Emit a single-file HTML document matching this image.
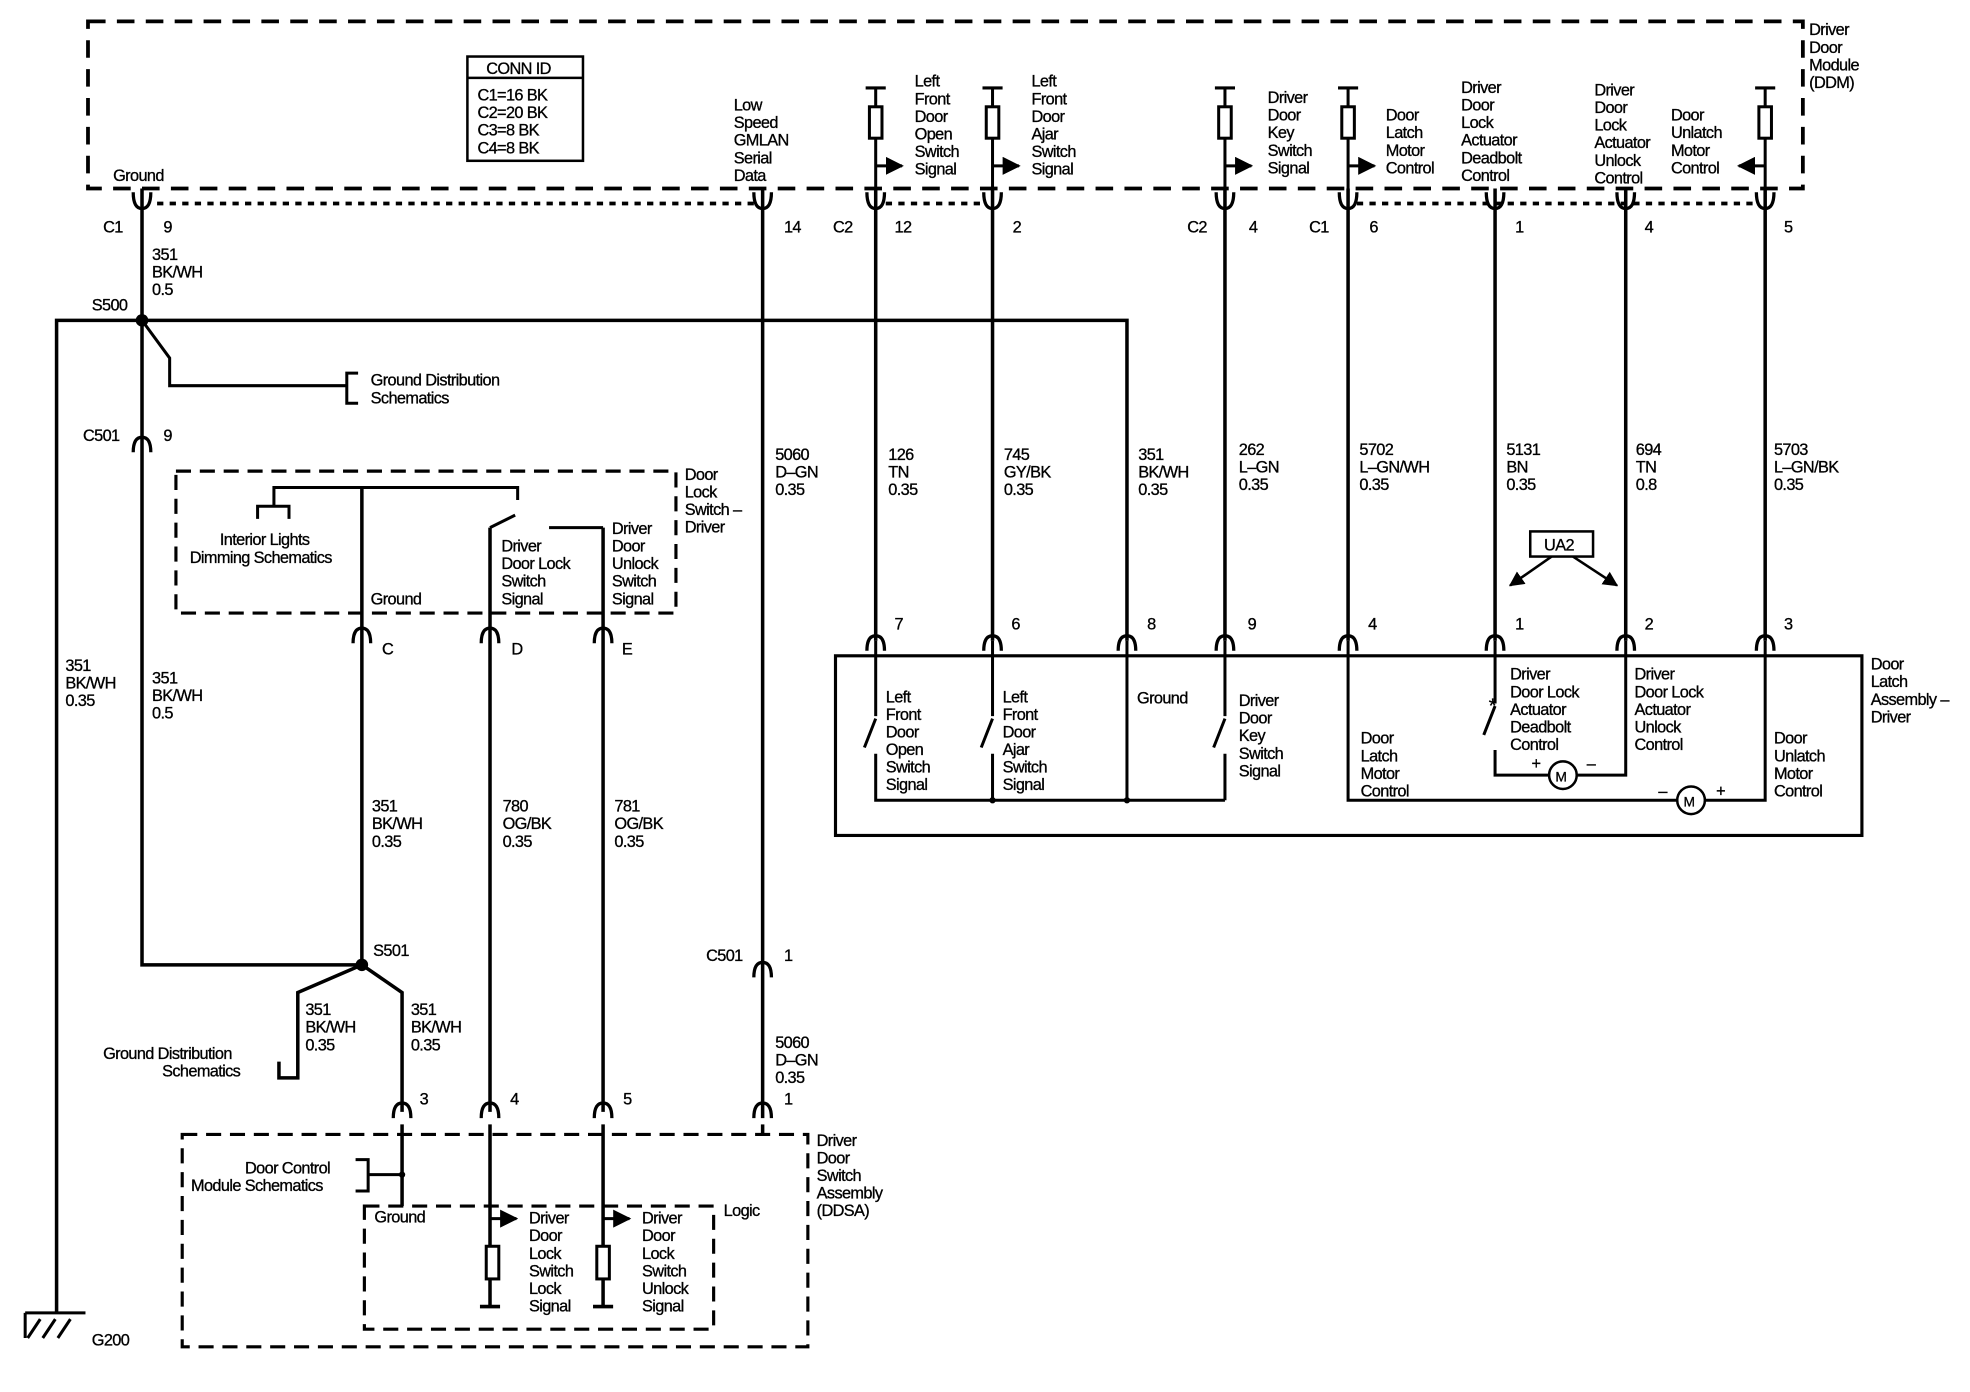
<!DOCTYPE html>
<html><head><meta charset="utf-8"><style>
html,body{margin:0;padding:0;background:#fff;}
svg{display:block;}
text{font-family:"Liberation Sans",Arial,sans-serif;font-size:13px;fill:#000;letter-spacing:-0.5px;stroke:#000;stroke-width:0.25px;}
</style></head><body>
<svg width="1970" height="1392" viewBox="0 0 1568 1108" xmlns="http://www.w3.org/2000/svg">
<defs>
<marker id="ar" viewBox="0 0 10 10" refX="9" refY="5" markerWidth="6" markerHeight="6" orient="auto"><path d="M0,0 L10,5 L0,10 z" fill="#000"/></marker>
</defs>
<g fill="none" stroke="#000" stroke-width="2.8">
<rect x="70" y="17" width="1365" height="133" stroke-width="3" stroke-dasharray="14,9"/>
<line x1="125" y1="162" x2="600" y2="162" stroke-width="3" stroke-dasharray="5,5"/>
<line x1="705" y1="162" x2="785" y2="162" stroke-width="3" stroke-dasharray="5,5"/>
<line x1="1080" y1="162" x2="1400" y2="162" stroke-width="3" stroke-dasharray="5,5"/>
<rect x="372" y="45" width="92" height="83" stroke-width="2"/>
<line x1="372" y1="62" x2="464" y2="62" stroke-width="2"/>

<path d="M113 150 V768 H288"/>
<path d="M45 1045 V255 H897 V510"/>
<path d="M607 150 V890"/>
<path d="M697 150 V510"/><path d="M790 150 V510"/><path d="M975 150 V510"/>
<path d="M1073 150 V510"/><path d="M1190 150 V510"/><path d="M1294 150 V510"/><path d="M1405 150 V510"/>
<path d="M113 255 L135 285 V307 H275" stroke-width="2.4"/>
<path d="M285 297 H276 V321 H285" stroke-width="2.4"/>

<g stroke-width="2.4">
<path d="M689 70 H705 M697 70 V150"/><rect x="692" y="85" width="10" height="25" fill="#fff"/>
<path d="M697 132 H718" marker-end="url(#ar)"/>
<path d="M782 70 H798 M790 70 V150"/><rect x="785" y="85" width="10" height="25" fill="#fff"/>
<path d="M790 132 H811" marker-end="url(#ar)"/>
<path d="M967 70 H983 M975 70 V150"/><rect x="970" y="85" width="10" height="25" fill="#fff"/>
<path d="M975 132 H996" marker-end="url(#ar)"/>
<path d="M1065 70 H1081 M1073 70 V150"/><rect x="1068" y="85" width="10" height="25" fill="#fff"/>
<path d="M1073 132 H1094" marker-end="url(#ar)"/>
<path d="M1397 70 H1413 M1405 70 V150"/><rect x="1400" y="85" width="10" height="25" fill="#fff"/>
<path d="M1405 132 H1384" marker-end="url(#ar)"/>
</g>

<rect x="140" y="375" width="398" height="113" stroke-width="2.5" stroke-dasharray="12,7"/>
<g stroke-width="2.4">
<path d="M205 413 V403 H230 V413 M218 403 V388 H412 V398"/>
<path d="M390 420 L410 410"/>
<path d="M480 420 H437"/>
</g>
<path d="M288 388 V768"/>
<path d="M390 420 V885"/>
<path d="M480 420 V885"/>

<path d="M288 768 L320 790 V885"/>
<path d="M288 768 L237 790 V858 H222 V845"/>

<rect x="665" y="522" width="817" height="143" stroke-width="2.5"/>
<g stroke-width="2.4">
<path d="M697 510 V570 M688 595 L697 572 M697 600 V637 H975"/>
<path d="M790 510 V570 M781 595 L790 572 M790 600 V637"/>
<path d="M897 510 V637"/>
<path d="M975 510 V570 M966 595 L975 572 M975 600 V637"/>
<path d="M1073 510 V637 H1335 M1357 637 H1405 V510"/>
<circle cx="1346" cy="637" r="11" stroke-width="2"/>
<path d="M1190 510 V560 M1181 585 L1190 562 M1190 597 V617 H1233 M1255 617 H1294 V510"/>
<circle cx="1244" cy="617" r="11" stroke-width="2"/>
</g>

<rect x="1218" y="423" width="50" height="20" stroke-width="2"/>
<path d="M1235 443 L1202 466" marker-end="url(#ar)" stroke-width="2"/>
<path d="M1252 443 L1287 466" marker-end="url(#ar)" stroke-width="2"/>

<rect x="145" y="903" width="498" height="169" stroke-width="2.5" stroke-dasharray="12,7"/>
<rect x="290" y="960" width="278" height="98" stroke-width="2.5" stroke-dasharray="12,7"/>
<path d="M320 895 V960"/>
<path d="M320 935 H293 V923 H283 M293 935 V948 H283" stroke-width="2.4"/>
<path d="M390 895 V1040 M382 1040 H398"/><rect x="387" y="992" width="10" height="26" fill="#fff" stroke-width="2.4"/>
<path d="M390 970 H411" marker-end="url(#ar)" stroke-width="2.4"/>
<path d="M480 895 V1040 M472 1040 H488"/><rect x="475" y="992" width="10" height="26" fill="#fff" stroke-width="2.4"/>
<path d="M480 970 H501" marker-end="url(#ar)" stroke-width="2.4"/>
<path d="M607 895 V903"/>

<path d="M20 1045 H68 M22 1065 L32 1050 M34 1065 L44 1050 M46 1065 L56 1050 M20 1045 V1065" stroke-width="2.4"/>

<g stroke-width="2.6">
<path d="M106 153 Q106 166 113 166 Q120 166 120 153"/><path d="M600 153 Q600 166 607 166 Q614 166 614 153"/>
<path d="M690 153 Q690 166 697 166 Q704 166 704 153"/><path d="M783 153 Q783 166 790 166 Q797 166 797 153"/>
<path d="M968 153 Q968 166 975 166 Q982 166 982 153"/><path d="M1066 153 Q1066 166 1073 166 Q1080 166 1080 153"/>
<path d="M1183 153 Q1183 166 1190 166 Q1197 166 1197 153"/><path d="M1287 153 Q1287 166 1294 166 Q1301 166 1301 153"/>
<path d="M1398 153 Q1398 166 1405 166 Q1412 166 1412 153"/>
</g>
<g stroke-width="2.6">
<path d="M106 360 Q106 348 113 348 Q120 348 120 360"/>
<path d="M281 512 Q281 500 288 500 Q295 500 295 512"/><path d="M383 512 Q383 500 390 500 Q397 500 397 512"/><path d="M473 512 Q473 500 480 500 Q487 500 487 512"/>
<path d="M690 518 Q690 506 697 506 Q704 506 704 518"/><path d="M783 518 Q783 506 790 506 Q797 506 797 518"/><path d="M890 518 Q890 506 897 506 Q904 506 904 518"/>
<path d="M968 518 Q968 506 975 506 Q982 506 982 518"/><path d="M1066 518 Q1066 506 1073 506 Q1080 506 1080 518"/><path d="M1183 518 Q1183 506 1190 506 Q1197 506 1197 518"/>
<path d="M1287 518 Q1287 506 1294 506 Q1301 506 1301 518"/><path d="M1398 518 Q1398 506 1405 506 Q1412 506 1412 518"/>
<path d="M600 778 Q600 766 607 766 Q614 766 614 778"/>
<path d="M313 890 Q313 878 320 878 Q327 878 327 890"/><path d="M383 890 Q383 878 390 878 Q397 878 397 890"/><path d="M473 890 Q473 878 480 878 Q487 878 487 890"/><path d="M600 890 Q600 878 607 878 Q614 878 614 890"/>
</g>
</g>
<circle cx="113" cy="255" r="5" fill="#000"/>
<circle cx="288" cy="768" r="5" fill="#000"/>
<circle cx="320" cy="935" r="2.5" fill="#000"/>
<circle cx="897" cy="637" r="2.5" fill="#000"/><circle cx="790" cy="637" r="2.5" fill="#000"/>

<g>
<text x="387" y="59">CONN ID</text>
<text x="380" y="80">C1=16 BK</text><text x="380" y="94">C2=20 BK</text><text x="380" y="108">C3=8 BK</text><text x="380" y="122">C4=8 BK</text>
<text x="1440" y="28">Driver</text><text x="1440" y="42">Door</text><text x="1440" y="56">Module</text><text x="1440" y="70">(DDM)</text>
<text x="90" y="144">Ground</text>
<text x="584" y="88">Low</text><text x="584" y="102">Speed</text><text x="584" y="116">GMLAN</text><text x="584" y="130">Serial</text><text x="584" y="144">Data</text>
<text x="728" y="69">Left</text><text x="728" y="83">Front</text><text x="728" y="97">Door</text><text x="728" y="111">Open</text><text x="728" y="125">Switch</text><text x="728" y="139">Signal</text>
<text x="821" y="69">Left</text><text x="821" y="83">Front</text><text x="821" y="97">Door</text><text x="821" y="111">Ajar</text><text x="821" y="125">Switch</text><text x="821" y="139">Signal</text>
<text x="1009" y="82">Driver</text><text x="1009" y="96">Door</text><text x="1009" y="110">Key</text><text x="1009" y="124">Switch</text><text x="1009" y="138">Signal</text>
<text x="1103" y="96">Door</text><text x="1103" y="110">Latch</text><text x="1103" y="124">Motor</text><text x="1103" y="138">Control</text>
<text x="1163" y="74">Driver</text><text x="1163" y="88">Door</text><text x="1163" y="102">Lock</text><text x="1163" y="116">Actuator</text><text x="1163" y="130">Deadbolt</text><text x="1163" y="144">Control</text>
<text x="1269" y="76">Driver</text><text x="1269" y="90">Door</text><text x="1269" y="104">Lock</text><text x="1269" y="118">Actuator</text><text x="1269" y="132">Unlock</text><text x="1269" y="146">Control</text>
<text x="1330" y="96">Door</text><text x="1330" y="110">Unlatch</text><text x="1330" y="124">Motor</text><text x="1330" y="138">Control</text>

<text x="82" y="185">C1</text><text x="130" y="185">9</text>
<text x="624" y="185">14</text>
<text x="663" y="185">C2</text><text x="712" y="185">12</text><text x="806" y="185">2</text>
<text x="945" y="185">C2</text><text x="994" y="185">4</text>
<text x="1042" y="185">C1</text><text x="1090" y="185">6</text><text x="1206" y="185">1</text><text x="1309" y="185">4</text><text x="1420" y="185">5</text>

<text x="121" y="207">351</text><text x="121" y="221">BK/WH</text><text x="121" y="235">0.5</text>
<text x="73" y="247">S500</text>
<text x="295" y="307">Ground Distribution</text><text x="295" y="321">Schematics</text>
<text x="66" y="351">C501</text><text x="130" y="351">9</text>

<text x="617" y="366">5060</text><text x="617" y="380">D–GN</text><text x="617" y="394">0.35</text>
<text x="707" y="366">126</text><text x="707" y="380">TN</text><text x="707" y="394">0.35</text>
<text x="799" y="366">745</text><text x="799" y="380">GY/BK</text><text x="799" y="394">0.35</text>
<text x="906" y="366">351</text><text x="906" y="380">BK/WH</text><text x="906" y="394">0.35</text>
<text x="986" y="362">262</text><text x="986" y="376">L–GN</text><text x="986" y="390">0.35</text>
<text x="1082" y="362">5702</text><text x="1082" y="376">L–GN/WH</text><text x="1082" y="390">0.35</text>
<text x="1199" y="362">5131</text><text x="1199" y="376">BN</text><text x="1199" y="390">0.35</text>
<text x="1302" y="362">694</text><text x="1302" y="376">TN</text><text x="1302" y="390">0.8</text>
<text x="1412" y="362">5703</text><text x="1412" y="376">L–GN/BK</text><text x="1412" y="390">0.35</text>

<text x="545" y="382">Door</text><text x="545" y="396">Lock</text><text x="545" y="410">Switch –</text><text x="545" y="424">Driver</text>
<text x="175" y="434">Interior Lights</text><text x="151" y="448">Dimming Schematics</text>
<text x="399" y="439">Driver</text><text x="399" y="453">Door Lock</text><text x="399" y="467">Switch</text><text x="399" y="481">Signal</text>
<text x="487" y="425">Driver</text><text x="487" y="439">Door</text><text x="487" y="453">Unlock</text><text x="487" y="467">Switch</text><text x="487" y="481">Signal</text>
<text x="295" y="481">Ground</text>
<text x="304" y="521">C</text><text x="407" y="521">D</text><text x="495" y="521">E</text>

<text x="1229" y="438">UA2</text>
<text x="712" y="501">7</text><text x="805" y="501">6</text><text x="913" y="501">8</text><text x="993" y="501">9</text>
<text x="1089" y="501">4</text><text x="1206" y="501">1</text><text x="1309" y="501">2</text><text x="1420" y="501">3</text>
<text x="1489" y="533">Door</text><text x="1489" y="547">Latch</text><text x="1489" y="561">Assembly –</text><text x="1489" y="575">Driver</text>

<text x="705" y="559">Left</text><text x="705" y="573">Front</text><text x="705" y="587">Door</text><text x="705" y="601">Open</text><text x="705" y="615">Switch</text><text x="705" y="629">Signal</text>
<text x="798" y="559">Left</text><text x="798" y="573">Front</text><text x="798" y="587">Door</text><text x="798" y="601">Ajar</text><text x="798" y="615">Switch</text><text x="798" y="629">Signal</text>
<text x="905" y="560">Ground</text>
<text x="986" y="562">Driver</text><text x="986" y="576">Door</text><text x="986" y="590">Key</text><text x="986" y="604">Switch</text><text x="986" y="618">Signal</text>
<text x="1083" y="592">Door</text><text x="1083" y="606">Latch</text><text x="1083" y="620">Motor</text><text x="1083" y="634">Control</text>
<text x="1202" y="541">Driver</text><text x="1202" y="555">Door Lock</text><text x="1202" y="569">Actuator</text><text x="1202" y="583">Deadbolt</text><text x="1202" y="597">Control</text>
<text x="1185" y="567" style="font-size:16px">*</text>
<text x="1301" y="541">Driver</text><text x="1301" y="555">Door Lock</text><text x="1301" y="569">Actuator</text><text x="1301" y="583">Unlock</text><text x="1301" y="597">Control</text>
<text x="1412" y="592">Door</text><text x="1412" y="606">Unlatch</text><text x="1412" y="620">Motor</text><text x="1412" y="634">Control</text>
<text x="1219" y="612">+</text><text x="1263" y="612">–</text><text x="1320" y="634">–</text><text x="1366" y="634">+</text>
<text x="1238" y="622" style="font-size:11px">M</text><text x="1340" y="642" style="font-size:11px">M</text>

<text x="52" y="534">351</text><text x="52" y="548">BK/WH</text><text x="52" y="562">0.35</text>
<text x="121" y="544">351</text><text x="121" y="558">BK/WH</text><text x="121" y="572">0.5</text>
<text x="296" y="646">351</text><text x="296" y="660">BK/WH</text><text x="296" y="674">0.35</text>
<text x="400" y="646">780</text><text x="400" y="660">OG/BK</text><text x="400" y="674">0.35</text>
<text x="489" y="646">781</text><text x="489" y="660">OG/BK</text><text x="489" y="674">0.35</text>

<text x="297" y="761">S501</text>
<text x="562" y="765">C501</text><text x="624" y="765">1</text>
<text x="243" y="808">351</text><text x="243" y="822">BK/WH</text><text x="243" y="836">0.35</text>
<text x="327" y="808">351</text><text x="327" y="822">BK/WH</text><text x="327" y="836">0.35</text>
<text x="82" y="843">Ground Distribution</text><text x="129" y="857">Schematics</text>
<text x="617" y="834">5060</text><text x="617" y="848">D–GN</text><text x="617" y="862">0.35</text>

<text x="334" y="879">3</text><text x="406" y="879">4</text><text x="496" y="879">5</text><text x="624" y="879">1</text>
<text x="650" y="912">Driver</text><text x="650" y="926">Door</text><text x="650" y="940">Switch</text><text x="650" y="954">Assembly</text><text x="650" y="968">(DDSA)</text>
<text x="195" y="934">Door Control</text><text x="152" y="948">Module Schematics</text>
<text x="298" y="973">Ground</text>
<text x="576" y="968">Logic</text>
<text x="421" y="974">Driver</text><text x="421" y="988">Door</text><text x="421" y="1002">Lock</text><text x="421" y="1016">Switch</text><text x="421" y="1030">Lock</text><text x="421" y="1044">Signal</text>
<text x="511" y="974">Driver</text><text x="511" y="988">Door</text><text x="511" y="1002">Lock</text><text x="511" y="1016">Switch</text><text x="511" y="1030">Unlock</text><text x="511" y="1044">Signal</text>
<text x="73" y="1071">G200</text>
</g>
</svg>
</body></html>
